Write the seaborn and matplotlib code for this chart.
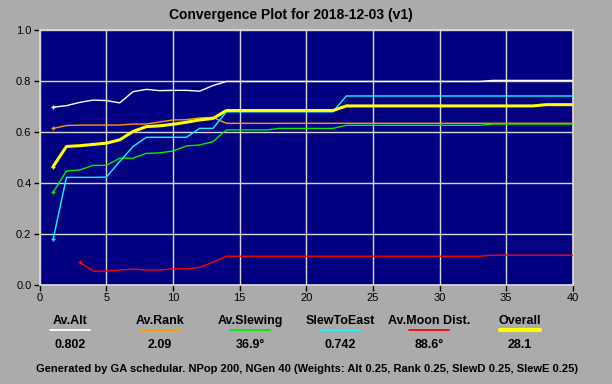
import numpy as np
import pandas as pd
import seaborn as sns
import matplotlib
matplotlib.use('Agg')
import matplotlib.pyplot as plt

nan = np.nan
gens = list(range(1, 41))

av_alt = [0.697, 0.703, 0.716, 0.725, 0.723, 0.714, 0.758, 0.767, 0.762, 0.763,
          0.763, 0.760, 0.782, 0.798, 0.798, 0.798, 0.798, 0.798, 0.798, 0.798,
          0.798, 0.798, 0.798, 0.798, 0.798, 0.798, 0.798, 0.798, 0.798, 0.798,
          0.798, 0.798, 0.798, 0.802, 0.802, 0.802, 0.802, 0.802, 0.802, 0.802]
av_rank = [0.614, 0.625, 0.627, 0.627, 0.627, 0.627, 0.631, 0.631, 0.639, 0.647,
           0.648, 0.655, 0.657, 0.634, 0.634, 0.634, 0.634, 0.634, 0.634, 0.634,
           0.634, 0.634, 0.634, 0.634, 0.634, 0.634, 0.634, 0.634, 0.634, 0.634,
           0.634, 0.634, 0.634, 0.634, 0.634, 0.634, 0.634, 0.634, 0.634, 0.634]
av_slewing = [0.363, 0.447, 0.451, 0.469, 0.469, 0.497, 0.497, 0.516, 0.518, 0.525,
              0.545, 0.549, 0.562, 0.608, 0.608, 0.608, 0.608, 0.614, 0.614, 0.614,
              0.614, 0.614, 0.626, 0.626, 0.626, 0.626, 0.626, 0.626, 0.626, 0.626,
              0.626, 0.626, 0.626, 0.631, 0.631, 0.631, 0.631, 0.631, 0.631, 0.631]
slew_to_east = [0.179, 0.422, 0.422, 0.422, 0.423, 0.484, 0.543, 0.579, 0.579, 0.579,
                0.579, 0.614, 0.614, 0.679, 0.679, 0.679, 0.679, 0.679, 0.679, 0.679,
                0.679, 0.679, 0.741, 0.741, 0.741, 0.741, 0.741, 0.741, 0.741, 0.741,
                0.741, 0.741, 0.741, 0.741, 0.741, 0.741, 0.741, 0.741, 0.741, 0.741]
av_moon = [nan, nan, 0.089, 0.054, 0.054, 0.059, 0.062, 0.059, 0.059, 0.063,
           0.063, 0.069, 0.089, 0.1125, 0.1125, 0.1125, 0.1125, 0.1125, 0.1125, 0.1125,
           0.1125, 0.1125, 0.1125, 0.1125, 0.1125, 0.1125, 0.1125, 0.1125, 0.1125, 0.1125,
           0.1125, 0.1125, 0.1125, 0.1165, 0.1165, 0.1165, 0.1165, 0.1165, 0.1165, 0.1165]
overall = [0.464, 0.543, 0.546, 0.551, 0.556, 0.569, 0.602, 0.621, 0.624, 0.630,
           0.638, 0.647, 0.653, 0.684, 0.684, 0.684, 0.684, 0.684, 0.684, 0.684,
           0.684, 0.684, 0.702, 0.702, 0.702, 0.702, 0.702, 0.702, 0.702, 0.702,
           0.702, 0.702, 0.702, 0.702, 0.702, 0.702, 0.702, 0.707, 0.707, 0.707]

names = ['Av.Alt', 'Av.Rank', 'Av.Slewing', 'SlewToEast', 'Av.Moon Dist.', 'Overall']
summary = ['0.802', '2.09', '36.9°', '0.742', '88.6°', '28.1']
colors = ['#FFFFFF', '#FF9900', '#00EE00', '#00FFFF', '#FF0000', '#FFFF00']
series = [av_alt, av_rank, av_slewing, slew_to_east, av_moon, overall]

sns.set_theme(style='white')
plt.rcParams['font.family'] = ['Liberation Sans', 'DejaVu Sans']

fig = plt.figure(figsize=(6.12, 3.84), dpi=100)
fig.patch.set_facecolor('#ABABAB')
ax = fig.add_axes([0.065, 0.258, 0.871, 0.664])
ax.set_facecolor('#000080')

for name, vals, col in zip(names, series, colors):
    lw = 2.2 if name == 'Overall' else 1.0
    # seaborn drops the NaN gens, so the first drawn point is index 0
    sns.lineplot(x=gens, y=vals, color=col, linewidth=lw, ax=ax,
                 marker='+', markevery=[0], markersize=3, mew=1, mec=col, zorder=3)

ax.set_xlim(0, 40)
ax.set_ylim(0, 1.0)
ax.set_xticks(range(0, 41, 5))
ax.set_yticks(np.arange(0, 1.01, 0.2))
ax.set_yticklabels(['0.0', '0.2', '0.4', '0.6', '0.8', '1.0'])
ax.grid(True, color='#D8D8D8', linewidth=1.0)
ax.set_axisbelow(True)
for s in ax.spines.values():
    s.set_color('#D8D8D8')
ax.tick_params(axis='both', direction='out', length=4, width=1, color='black',
               labelsize=8, labelcolor='black', bottom=True, left=True, pad=2)
ax.set_xlabel('')
ax.set_ylabel('')

fig.text(0.475, 0.962, 'Convergence Plot for 2018-12-03 (v1)', ha='center', va='center',
         fontsize=10, fontweight='bold', color='black')

xs = [70, 160, 250, 340, 429, 520]
for x, name, val, col in zip(xs, names, summary, colors):
    fx = x / 612
    fig.text(fx, 1 - 321 / 384, name, ha='center', va='center', fontsize=9,
             fontweight='bold', color='black')
    lw = 3 if name == 'Overall' else 1.3
    fig.add_artist(plt.Line2D([fx - 20 / 612, fx + 20 / 612], [1 - 330 / 384] * 2,
                              color=col, linewidth=lw, transform=fig.transFigure))
    fig.text(fx, 1 - 345 / 384, val, ha='center', va='center', fontsize=9,
             fontweight='bold', color='black')

fig.text(0.501, 1 - 369 / 384,
         'Generated by GA schedular. NPop 200, NGen 40 (Weights: Alt 0.25, Rank 0.25, SlewD 0.25, SlewE 0.25)',
         ha='center', va='center', fontsize=8.05, fontweight='bold', color='black')

fig.savefig('out.png', dpi=100, facecolor=fig.get_facecolor())
